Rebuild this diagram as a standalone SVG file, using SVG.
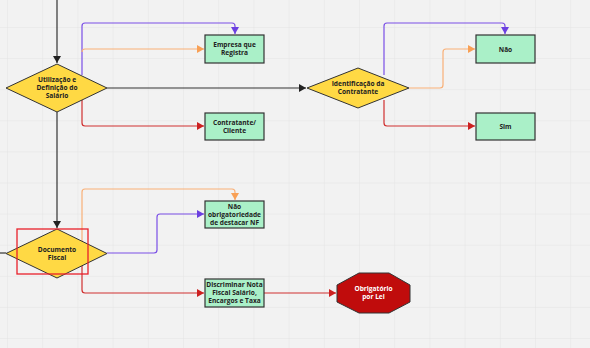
<svg xmlns="http://www.w3.org/2000/svg" width="590" height="348" viewBox="0 0 590 348">
<defs>
<pattern id="grid" x="7" y="27" width="35.2" height="31.1" patternUnits="userSpaceOnUse">
<path d="M0 0 H35.2 M0 0 V31.1" fill="none" stroke="#e3e3e3" stroke-width="1"/>
</pattern>
<marker id="aK" markerWidth="8" markerHeight="8" refX="7" refY="4" orient="auto" markerUnits="userSpaceOnUse"><path d="M0 0 L7 4 L0 8 z" fill="#222"/></marker>
<marker id="aP" markerWidth="8" markerHeight="8" refX="7" refY="4" orient="auto" markerUnits="userSpaceOnUse"><path d="M0 0 L7 4 L0 8 z" fill="#6b3fe0"/></marker>
<marker id="aO" markerWidth="8" markerHeight="8" refX="7" refY="4" orient="auto" markerUnits="userSpaceOnUse"><path d="M0 0 L7 4 L0 8 z" fill="#f8a055"/></marker>
<marker id="aR" markerWidth="8" markerHeight="8" refX="7" refY="4" orient="auto" markerUnits="userSpaceOnUse"><path d="M0 0 L7 4 L0 8 z" fill="#cc2020"/></marker>
</defs>
<style>
.dia{fill:#ffd944;stroke:#333;stroke-width:1}
.box{fill:#aaf0c8;stroke:#333;stroke-width:1.2}
.t{font-family:"Open Sans","Liberation Sans",sans-serif;font-weight:bold;font-size:6.6px;fill:#222;text-anchor:middle}
.w{fill:#fff}
.c{fill:none;stroke-width:1.2}
.k{stroke:#333}
.p{stroke:#7a4fe6}
.o{stroke:#f9b077}
.r{stroke:#d03030}
</style>
<rect width="590" height="348" fill="#f2f2f2"/>
<rect width="590" height="348" fill="url(#grid)"/>

<g id="connectors">
<path class="c k" d="M57 0 V63" marker-end="url(#aK)"/>
<path class="c k" d="M57 112 V228" marker-end="url(#aK)"/>
<path class="c k" d="M107 88 H306" marker-end="url(#aK)"/>
<path class="c k" d="M0 253 H6" stroke="#777"/>
<path class="c p" d="M82 75 V26 Q82 23 85 23 H232 Q235 23 235 26 V34" marker-end="url(#aP)"/>
<path class="c o" d="M82 52 Q82 49 85 49 H204" marker-end="url(#aO)"/>
<path class="c r" d="M82 100 V123 Q82 126 85 126 H204" marker-end="url(#aR)"/>
<path class="c p" d="M384 75 V26 Q384 23 387 23 H502 Q505 23 505 26 V34" marker-end="url(#aP)"/>
<path class="c o" d="M409 88 H440 Q443 88 443 85 V52 Q443 49 446 49 H475" marker-end="url(#aO)"/>
<path class="c r" d="M384 100 V123 Q384 126 387 126 H475" marker-end="url(#aR)"/>
<path class="c o" d="M82 241 V192 Q82 189 85 189 H232 Q235 189 235 192 V200" marker-end="url(#aO)"/>
<path class="c p" d="M107 253 H154 Q157 253 157 250 V217 Q157 214 160 214 H204" marker-end="url(#aP)"/>
<path class="c r" d="M82 266 V290 Q82 293 85 293 H204" marker-end="url(#aR)"/>
<path class="c r" d="M264 293 H336" marker-end="url(#aR)"/>
</g>

<g id="n-utilizacao">
<polygon class="dia" points="57,64 107,88 57,112 6,88"/>
<text class="t" x="57" y="82">Utilização e</text>
<text class="t" x="57" y="90">Definição do</text>
<text class="t" x="57" y="98">Salário</text>
</g>
<g id="n-empresa">
<rect class="box" x="205" y="35" width="59" height="28"/>
<text class="t" x="234.5" y="47">Empresa que</text>
<text class="t" x="234.5" y="55">Registra</text>
</g>
<g id="n-contratante">
<rect class="box" x="205" y="113" width="59" height="27"/>
<text class="t" x="234.5" y="125">Contratante/</text>
<text class="t" x="234.5" y="133">Cliente</text>
</g>
<g id="n-identificacao">
<polygon class="dia" points="358,68 409,88 358,108 307,88"/>
<text class="t" x="358" y="86">Identificação da</text>
<text class="t" x="358" y="94">Contratante</text>
</g>
<g id="n-nao">
<rect class="box" x="476" y="35" width="59" height="28"/>
<text class="t" x="505.5" y="51.5">Não</text>
</g>
<g id="n-sim">
<rect class="box" x="476" y="113" width="59" height="27"/>
<text class="t" x="505.5" y="129">Sim</text>
</g>
<g id="n-documento">
<polygon class="dia" points="57,229 107,253.5 57,278 6,253.5"/>
<text class="t" x="57" y="252">Documento</text>
<text class="t" x="57" y="260">Fiscal</text>
<rect x="17" y="229" width="71" height="45" fill="none" stroke="#e8202a" stroke-width="1.3"/>
</g>
<g id="n-naoobrig">
<rect class="box" x="205" y="201" width="59" height="27"/>
<text class="t" x="234.5" y="209">Não</text>
<text class="t" x="234.5" y="217">obrigatoriedade</text>
<text class="t" x="234.5" y="225">de destacar NF</text>
</g>
<g id="n-discriminar">
<rect class="box" x="205" y="279" width="59" height="28"/>
<text class="t" x="234.5" y="287">Discriminar Nota</text>
<text class="t" x="234.5" y="295">Fiscal Salário,</text>
<text class="t" x="234.5" y="303">Encargos e Taxa</text>
</g>
<g id="n-obrigatorio">
<polygon points="359,273 389,273 410,285 410,302 389,313 359,313 337,302 337,285" fill="#c00c0c" stroke="#333" stroke-width="1"/>
<text class="t w" x="373.5" y="291">Obrigatório</text>
<text class="t w" x="373.5" y="299">por Lei</text>
</g>
</svg>
